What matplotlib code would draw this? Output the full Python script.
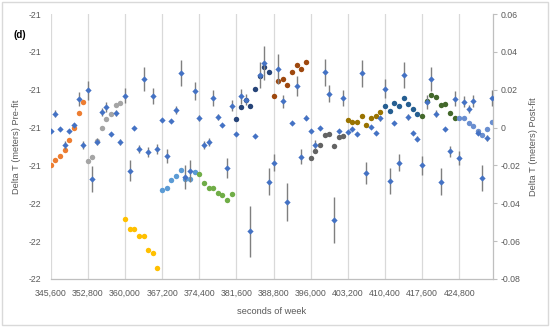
import numpy as np
import matplotlib
matplotlib.use("Agg")
import matplotlib.pyplot as plt
from matplotlib.patches import Rectangle

plt.rcParams['font.family'] = ['Liberation Sans', 'DejaVu Sans']

# ---------------- data ----------------
epoch_start = 345600          # seconds of week of first epoch
epoch_step = 900              # 15-minute epochs
n_epochs = 96
seconds = epoch_start + epoch_step * np.arange(n_epochs)

# Post-fit residuals (right axis), one per epoch, with 1-sigma error
postfit = [
    -0.0018, 0.0073, -0.0006, -0.0092, -0.0018, 0.0012, 0.0151, -0.0090,
    0.0196, -0.0272, -0.0074, 0.0082, 0.0110, -0.0034, 0.0075, -0.0074,
    0.0168, -0.0227, -0.0001, -0.0113, 0.0258, -0.0129, 0.0167, -0.0113,
    0.0039, -0.0149, 0.0035, 0.0091, 0.0288, -0.0260, -0.0231, 0.0193,
    0.0049, -0.0090, -0.0078, 0.0156, 0.0054, 0.0012, -0.0214, 0.0116,
    -0.0034, 0.0165, 0.0146, -0.0549, -0.0045, 0.0276, 0.0340, -0.0286,
    -0.0186, 0.0309, 0.0139, -0.0395, 0.0026, 0.0220, -0.0154, 0.0052,
    -0.0017, -0.0090, -0.0004, 0.0292, 0.0179, -0.0488, -0.0018, 0.0156,
    -0.0022, -0.0008, -0.0032, 0.0287, -0.0240, 0.0005, -0.0027, 0.0048,
    0.0204, -0.0282, 0.0023, -0.0186, 0.0276, 0.0056, -0.0029, -0.0058,
    -0.0199, 0.0137, 0.0257, 0.0074, -0.0286, -0.0008, -0.0125, 0.0153,
    -0.0161, 0.0137, 0.0097, 0.0140, -0.0027, -0.0266, -0.0055, 0.0155,
]
postfit_err = [
    0.0005, 0.0018, 0.0005, 0.0020, 0.0005, 0.0010, 0.0037, 0.0021,
    0.0048, 0.0069, 0.0020, 0.0021, 0.0026, 0.0005, 0.0016, 0.0016,
    0.0039, 0.0056, 0.0005, 0.0023, 0.0063, 0.0024, 0.0041, 0.0026,
    0.0005, 0.0036, 0.0005, 0.0021, 0.0071, 0.0063, 0.0058, 0.0048,
    0.0016, 0.0021, 0.0021, 0.0042, 0.0016, 0.0005, 0.0054, 0.0028,
    0.0005, 0.0040, 0.0029, 0.0137, 0.0005, 0.0069, 0.0090, 0.0071,
    0.0046, 0.0078, 0.0033, 0.0100, 0.0005, 0.0053, 0.0040, 0.0013,
    0.0005, 0.0024, 0.0005, 0.0072, 0.0044, 0.0122, 0.0005, 0.0040,
    0.0005, 0.0005, 0.0005, 0.0071, 0.0060, 0.0005, 0.0005, 0.0013,
    0.0050, 0.0069, 0.0005, 0.0046, 0.0069, 0.0016, 0.0005, 0.0014,
    0.0049, 0.0037, 0.0063, 0.0020, 0.0070, 0.0005, 0.0029, 0.0041,
    0.0039, 0.0030, 0.0021, 0.0032, 0.0013, 0.0067, 0.0016, 0.0041,
]

# Pre-fit Delta T (left axis), 12 passes of 8 epochs each
pass01 = [-21.399, -21.385, -21.375, -21.360, -21.332, -21.301, -21.261, -21.233]
pass02 = [-21.388, -21.377, -21.335, -21.302, -21.277, -21.263, -21.241, -21.234]
pass03 = [-21.542, -21.568, -21.568, -21.587, -21.586, -21.623, -21.632, -21.672]
pass04 = [-21.465, -21.460, -21.439, -21.428, -21.413, -21.436, -21.436, -21.417]
pass05 = [-21.423, -21.447, -21.460, -21.460, -21.472, -21.479, -21.492, -21.475]
pass06 = [-21.277, -21.246, -21.227, -21.242, -21.197, -21.164, -21.141, -21.152]
pass07 = [-21.216, -21.177, -21.172, -21.187, -21.154, -21.135, -21.145, -21.126]
pass08 = [-21.380, -21.363, -21.345, -21.319, -21.317, -21.348, -21.325, -21.321]
pass09 = [-21.281, -21.284, -21.286, -21.269, -21.292, -21.275, -21.270, -21.258]
pass10 = [-21.244, -21.257, -21.235, -21.242, -21.221, -21.237, -21.250, -21.263]
pass11 = [-21.269, -21.231, -21.214, -21.219, -21.241, -21.239, -21.262, -21.274]
pass12 = [-21.275, -21.275, -21.289, -21.295, -21.309, -21.319, -21.305, -21.285]
passes = [pass01, pass02, pass03, pass04, pass05, pass06,
          pass07, pass08, pass09, pass10, pass11, pass12]
pass_colors = ['#ED7D31', '#A5A5A5', '#FFC000', '#5B9BD5', '#70AD47', '#264478',
               '#9E480E', '#636363', '#997300', '#255E91', '#43682B', '#698ED0']

x_ticks = [345600 + 7200 * i for i in range(12)]
x_tick_labels = [f"{v:,}" for v in x_ticks]
left_ticks = [-21.0, -21.1, -21.2, -21.3, -21.4, -21.5, -21.6, -21.7]
left_tick_labels = ['-21', '-21', '-21', '-21', '-21', '-22', '-22', '-22']
right_ticks = [0.06, 0.04, 0.02, 0.0, -0.02, -0.04, -0.06, -0.08]
right_tick_labels = ['0.06', '0.04', '0.02', '0', '-0.02', '-0.04', '-0.06', '-0.08']

# ---------------- figure ----------------
W, H = 550, 327
fig = plt.figure(figsize=(W / 100, H / 100), dpi=100)
fig.patch.set_facecolor('white')
fig.add_artist(Rectangle((2 / W, 2 / H), (W - 4) / W, (H - 4) / H,
                         transform=fig.transFigure, fill=False,
                         edgecolor='#D9D9D9', lw=1.0))

left, right, top, bottom = 50.7, 493.3, 14, 279
ax = fig.add_axes([left / W, 1 - bottom / H, (right - left) / W, (bottom - top) / H])
ax2 = ax.twinx()

txt = '#595959'
fs = 6.3

# pre-fit circles
ms_c = 3.9
for i, (vals, col) in enumerate(zip(passes, pass_colors)):
    xs = seconds[i * 8:(i + 1) * 8]
    ax.plot(xs, vals, 'o', color=col, ms=ms_c, mew=0, zorder=3)

# post-fit diamonds with error bars
ax2.errorbar(seconds, postfit, yerr=postfit_err, fmt='D', color='#4472C4',
             ms=3.2, mew=0, ecolor='#7F7F7F', elinewidth=1.0,
             capsize=2.2, capthick=1.0, zorder=4)

ax.set_xlim(345600, 431400)
ax.set_ylim(-21.7, -21.0)
ax2.set_ylim(-0.08, 0.06)

ax.set_xticks(x_ticks)
ax.set_xticklabels(x_tick_labels)
ax.set_yticks(left_ticks)
ax.set_yticklabels(left_tick_labels)
ax2.set_yticks(right_ticks)
ax2.set_yticklabels(right_tick_labels)

ax.grid(axis='x', color='#D9D9D9', lw=0.9, zorder=0)
ax.set_axisbelow(True)

for s in ['top', 'left', 'right']:
    ax.spines[s].set_visible(False)
ax.spines['bottom'].set_color('#BFBFBF')
ax.spines['bottom'].set_linewidth(0.9)
for s in ['top', 'left', 'bottom']:
    ax2.spines[s].set_visible(False)
ax2.spines['right'].set_color('#BFBFBF')
ax2.spines['right'].set_linewidth(0.9)

ax.tick_params(axis='x', length=0, pad=7, labelsize=fs, labelcolor=txt)
ax.tick_params(axis='y', length=0, pad=6.5, labelsize=fs, labelcolor=txt)
ax2.tick_params(axis='y', length=3, width=0.8, color='#BFBFBF', pad=2.5,
                labelsize=fs, labelcolor=txt)

ax.set_xlabel('seconds of week', fontsize=fs + 0.4, color=txt, labelpad=7)
ax.set_ylabel('Delta T (meters) Pre-fit', fontsize=fs + 0.4, color=txt, labelpad=6)
ax2.set_ylabel('Delta T (meters) Post-fit', fontsize=fs + 0.4, color=txt,
               rotation=90, labelpad=6)

fig.text(13 / W, 1 - 35 / H, '(d)', fontsize=7, fontweight='bold',
         color='black', va='center', ha='left')

fig.savefig('out.png', dpi=100)
